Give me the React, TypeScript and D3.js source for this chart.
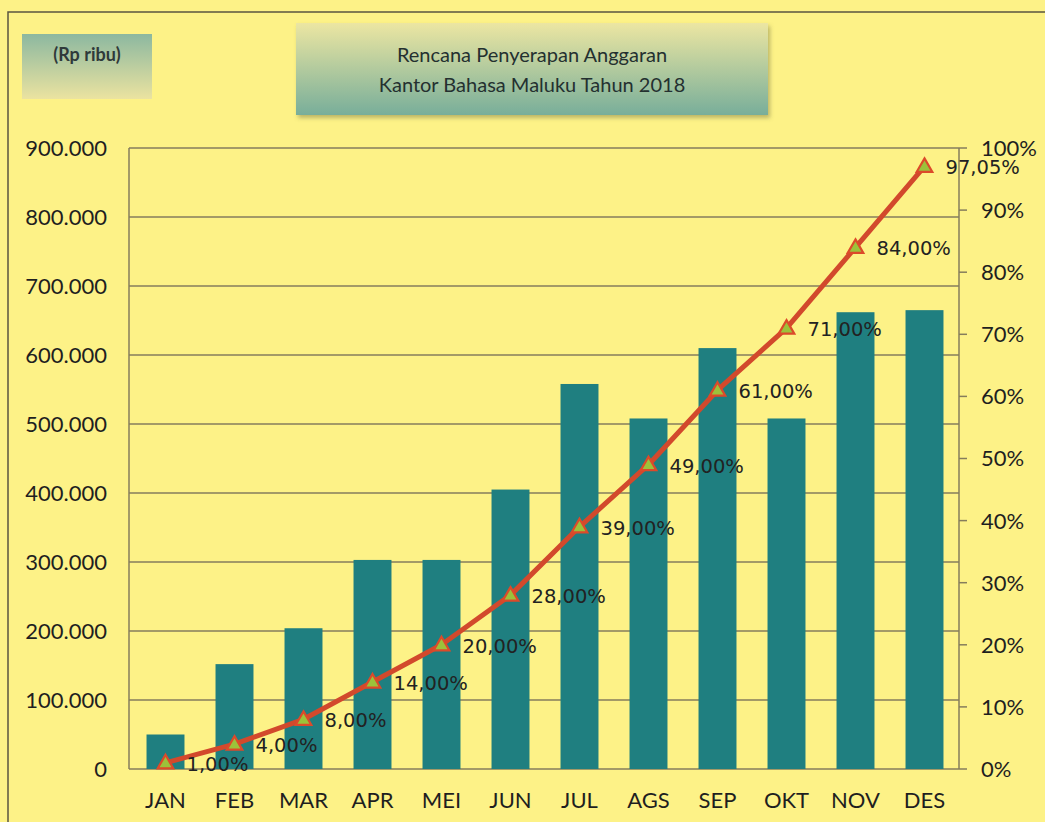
import { useEffect, useRef } from 'react';
import * as d3 from 'd3';

const MONTHS = ['JAN', 'FEB', 'MAR', 'APR', 'MEI', 'JUN', 'JUL', 'AGS', 'SEP', 'OKT', 'NOV', 'DES'];
// rencana per bulan (Rp ribu)
const BUDGET = [50000, 152000, 204000, 303000, 303000, 405000, 558000, 508000, 610000, 508000, 662000, 665000];
// persentase kumulatif
const CUMULATIVE = [0.01, 0.04, 0.08, 0.14, 0.2, 0.28, 0.39, 0.49, 0.61, 0.71, 0.84, 0.9705];
const LEFT_TICKS = [0, 100000, 200000, 300000, 400000, 500000, 600000, 700000, 800000, 900000];
const RIGHT_TICKS = [0, 0.1, 0.2, 0.3, 0.4, 0.5, 0.6, 0.7, 0.8, 0.9, 1];
const TITLE_LINES = ['Rencana Penyerapan Anggaran', 'Kantor Bahasa Maluku Tahun 2018'];

const W = 1045;
const H = 822;
const AXIS_FONT = 'Lato, "Open Sans", sans-serif';
const LABEL_FONT = '"DejaVu Sans", Verdana, sans-serif';

const idLocale = d3.formatLocale({ decimal: ',', thousands: '.', grouping: [3], currency: ['Rp', ''] });

export default function App() {
  const svgRef = useRef<SVGSVGElement>(null);

  useEffect(() => {
    if (!svgRef.current) return;
    const svg = d3.select(svgRef.current);
    svg.selectAll('*').remove();

    const left = 131, right = 959, top = 148, bottom = 769;

    const x = d3.scaleBand<string>().domain(MONTHS).range([left, right]).paddingInner(0.45).paddingOuter(0.225);
    const yL = d3.scaleLinear().domain([0, 900000]).range([bottom, top]);
    const yR = d3.scaleLinear().domain([0, 1]).range([bottom, top]);

    const defs = svg.append('defs');
    const g1 = defs.append('linearGradient').attr('id', 'titleGrad').attr('x1', 0).attr('y1', 0).attr('x2', 0).attr('y2', 1);
    g1.append('stop').attr('offset', '0%').attr('stop-color', '#ece6a2');
    g1.append('stop').attr('offset', '100%').attr('stop-color', '#78ae9a');
    const g2 = defs.append('linearGradient').attr('id', 'unitGrad').attr('x1', 0).attr('y1', 0).attr('x2', 0).attr('y2', 1);
    g2.append('stop').attr('offset', '0%').attr('stop-color', '#8cb8a0');
    g2.append('stop').attr('offset', '100%').attr('stop-color', '#ebe3a0');
    const sh = defs.append('filter').attr('id', 'shadow').attr('x', '-5%').attr('y', '-10%').attr('width', '115%').attr('height', '130%');
    sh.append('feDropShadow').attr('dx', 2).attr('dy', 3).attr('stdDeviation', 2).attr('flood-color', '#6b6a40').attr('flood-opacity', 0.45);

    // background + frame
    svg.append('rect').attr('width', W).attr('height', H).attr('fill', '#fdf287');
    svg.append('rect').attr('x', 8).attr('y', 12).attr('width', 1045).attr('height', 830)
      .attr('fill', 'none').attr('stroke', '#5a5640').attr('stroke-width', 1.5);

    // unit box
    svg.append('rect').attr('x', 22).attr('y', 34).attr('width', 130).attr('height', 65).attr('fill', 'url(#unitGrad)');
    svg.append('text').attr('x', 87).attr('y', 61).attr('text-anchor', 'middle')
      .attr('font-family', AXIS_FONT).attr('font-size', 18).attr('font-weight', 700).attr('fill', '#2f3a3a')
      .text('(Rp ribu)');

    // title box
    svg.append('rect').attr('x', 296).attr('y', 23).attr('width', 472).attr('height', 92)
      .attr('fill', 'url(#titleGrad)').attr('filter', 'url(#shadow)');
    svg.append('g').selectAll('text').data(TITLE_LINES).join('text')
      .attr('x', 532).attr('y', (_, i) => 62 + i * 30).attr('text-anchor', 'middle')
      .attr('font-family', AXIS_FONT).attr('font-size', 20).attr('fill', '#243030')
      .text(d => d);

    // gridlines
    svg.append('g').selectAll('line').data(LEFT_TICKS).join('line')
      .attr('x1', left - 2).attr('x2', right).attr('y1', d => yL(d)).attr('y2', d => yL(d))
      .attr('stroke', '#857d5c').attr('stroke-width', 1.5);

    // axis lines
    svg.append('line').attr('x1', left - 2).attr('x2', left - 2).attr('y1', top).attr('y2', bottom)
      .attr('stroke', '#857d5c').attr('stroke-width', 1.5);
    svg.append('line').attr('x1', right).attr('x2', right).attr('y1', top).attr('y2', bottom)
      .attr('stroke', '#857d5c').attr('stroke-width', 1.5);
    svg.append('g').selectAll('line').data(RIGHT_TICKS).join('line')
      .attr('x1', right).attr('x2', right + 8).attr('y1', d => yR(d)).attr('y2', d => yR(d))
      .attr('stroke', '#857d5c').attr('stroke-width', 1.5);

    // left labels
    svg.append('g').selectAll('text').data(LEFT_TICKS).join('text')
      .attr('x', 107).attr('y', d => yL(d)).attr('dy', '0.36em').attr('text-anchor', 'end')
      .attr('font-family', AXIS_FONT).attr('font-size', 22).attr('fill', '#1f1f1f')
      .text(d => idLocale.format(',')(d));

    // right labels
    svg.append('g').selectAll('text').data(RIGHT_TICKS).join('text')
      .attr('x', 981).attr('y', d => yR(d)).attr('dy', '0.36em')
      .attr('font-family', AXIS_FONT).attr('font-size', 22).attr('fill', '#1f1f1f')
      .text(d => idLocale.format('.0%')(d));

    // month labels
    svg.append('g').selectAll('text').data(MONTHS).join('text')
      .attr('x', d => x(d)! + x.bandwidth() / 2).attr('y', 808).attr('text-anchor', 'middle')
      .attr('font-family', AXIS_FONT).attr('font-size', 22).attr('fill', '#1f1f1f')
      .text(d => d);

    // bars
    svg.append('g').selectAll('rect').data(BUDGET).join('rect')
      .attr('x', (_, i) => x(MONTHS[i])!).attr('width', x.bandwidth())
      .attr('y', d => yL(d)).attr('height', d => bottom - yL(d))
      .attr('fill', '#1f7f80');

    // cumulative line
    const cx = (i: number) => x(MONTHS[i])! + x.bandwidth() / 2;
    const line = d3.line<number>().x((_, i) => cx(i)).y(d => yR(d));
    svg.append('path').datum(CUMULATIVE).attr('d', line).attr('fill', 'none')
      .attr('stroke', '#d2492c').attr('stroke-width', 5).attr('stroke-linejoin', 'round');

    const tri = d3.symbol().type(d3.symbolTriangle).size(105);
    svg.append('g').selectAll('path').data(CUMULATIVE).join('path')
      .attr('d', tri)
      .attr('transform', (d, i) => `translate(${cx(i)},${yR(d) + 1})`)
      .attr('fill', '#9cc23a').attr('stroke', '#dc4a2a').attr('stroke-width', 2.2);

    svg.append('g').selectAll('text').data(CUMULATIVE).join('text')
      .attr('x', (_, i) => cx(i) + 21).attr('y', d => yR(d)).attr('dy', '0.4em')
      .attr('font-family', LABEL_FONT).attr('font-size', 19.5).attr('fill', '#222')
      .text(d => idLocale.format('.2%')(d));
  }, []);

  return (
    <div style={{ position: 'absolute', left: 0, top: 0 }}>
      <svg ref={svgRef} width={W} height={H} viewBox={`0 0 ${W} ${H}`} style={{ display: 'block' }} />
    </div>
  );
}
